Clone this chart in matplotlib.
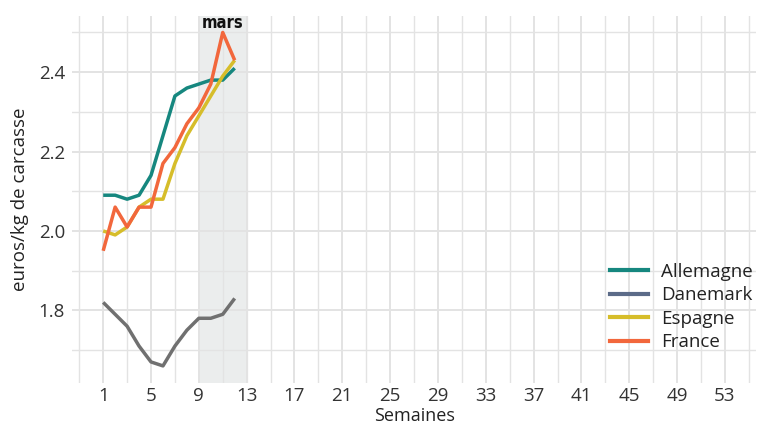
import matplotlib.pyplot as plt
from matplotlib.lines import Line2D

plt.rcParams["font.family"] = ["Open Sans", "DejaVu Sans"]

weeks = list(range(1, 13))
allemagne = [2.09, 2.09, 2.08, 2.09, 2.14, 2.24, 2.34, 2.36, 2.37, 2.38, 2.38, 2.41]
danemark = [1.82, 1.79, 1.76, 1.71, 1.67, 1.66, 1.71, 1.75, 1.78, 1.78, 1.79, 1.83]
espagne = [2.00, 1.99, 2.01, 2.06, 2.08, 2.08, 2.17, 2.24, 2.29, 2.34, 2.39, 2.43]
france = [1.95, 2.06, 2.01, 2.06, 2.06, 2.17, 2.21, 2.27, 2.31, 2.37, 2.50, 2.43]

series = [
    ("Allemagne", allemagne, "#16877f", "#16877f"),
    ("Danemark", danemark, "#707070", "#5b6b88"),
    ("Espagne", espagne, "#d6bd2a", "#d6bd2a"),
    ("France", france, "#f2673c", "#f2673c"),
]

x_major = list(range(1, 54, 4))
x_minor = list(range(-1, 56, 4))
y_major = [1.8, 2.0, 2.2, 2.4]
y_minor = [1.7, 1.9, 2.1, 2.3, 2.5]

fig = plt.figure(figsize=(7.59, 4.26), dpi=100)
ax = fig.add_axes([0.095, 0.101, 0.901, 0.861])

ax.axvspan(9, 13, color="#ebeded", zorder=0)
ax.text(11, 2.523, "mars", ha="center", va="center", fontsize=12,
        fontweight="bold", fontstretch="condensed",
        family=["DejaVu Sans"], color="#111111")

for name, vals, col, _ in series:
    ax.plot(weeks, vals, color=col, lw=2.5, solid_capstyle="butt", zorder=3)

ax.set_xlim(-1.6, 55.6)
ax.set_ylim(1.617, 2.541)
ax.set_xticks(x_major)
ax.set_xticks(x_minor, minor=True)
ax.set_yticks(y_major)
ax.set_yticks(y_minor, minor=True)
ax.grid(which="major", color="#e3e3e3", lw=1.4, zorder=1)
ax.grid(which="minor", color="#e3e3e3", lw=1.0, zorder=1)
ax.set_axisbelow(True)
ax.tick_params(which="both", length=0, labelsize=13.5, colors="#333333")
ax.tick_params(axis="x", pad=3)
ax.tick_params(axis="y", pad=5)
for s in ax.spines.values():
    s.set_visible(False)

ax.set_xlabel("Semaines", fontsize=13, color="#222222", labelpad=1.5)
ax.set_ylabel("euros/kg de carcasse", fontsize=13.5, color="#222222", labelpad=7)

handles = [Line2D([], [], color=lc, lw=3) for _, _, _, lc in series]
labels = [n for n, _, _, _ in series]
ax.legend(handles, labels, loc="center left", bbox_to_anchor=(0.787, 0.207),
          frameon=False, fontsize=13.5, handlelength=2.0, handletextpad=0.7,
          labelspacing=0.3, borderpad=0, borderaxespad=0,
          labelcolor="#222222")

fig.savefig("out.png", dpi=100)
